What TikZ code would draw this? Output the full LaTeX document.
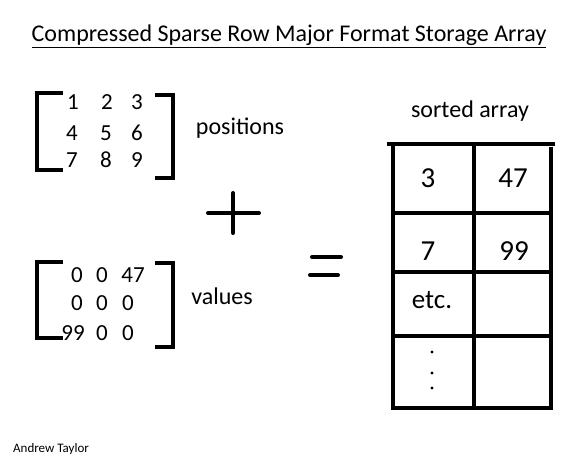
\documentclass[tikz,border=0pt]{standalone}
\usepackage{fontspec}
\setmainfont{Carlito}
\begin{document}
\begin{tikzpicture}[x=1pt,y=-1pt,
  thick line/.style={line width=4pt},
  num/.style={font=\fontsize{23}{28}\selectfont, inner sep=0pt, text height=14.5pt, text depth=0pt},
  lbl/.style={font=\fontsize{24}{28}\selectfont, inner sep=0pt},
  cell/.style={font=\fontsize{29}{32}\selectfont, inner sep=0pt, text height=18.3pt, text depth=0pt}]
\useasboundingbox[fill=white] (0,0) rectangle (582,462);
% title
\node[font=\fontsize{24}{28}\selectfont, inner sep=0pt] (title) at (289,36) {\underline{Compressed Sparse Row Major Format Storage Array}};
% matrix 1
\draw[thick line] (63,93) -- (37,93) -- (37,170) -- (63,170);
\draw[thick line] (155,95) -- (173,95) -- (173,178) -- (155,178);
\node[num] (p1) at (73,102) {1};
\node[num] (p2) at (107,102) {2};
\node[num] (p3) at (137,102) {3};
\node[num] (p4) at (72,133) {4};
\node[num] (p5) at (106,133) {5};
\node[num] (p6) at (137,133) {6};
\node[num] (p7) at (72,160) {7};
\node[num] (p8) at (106,160) {8};
\node[num] (p9) at (137,160) {9};
\node[lbl] (positions) at (240,128) {positions};
% plus
\draw[thick line, line cap=round] (208,213) -- (259,213);
\draw[thick line, line cap=round] (233,193) -- (233,233);
% matrix 2
\draw[thick line] (63,262) -- (37,262) -- (37,338) -- (63,338);
\draw[thick line] (155,263) -- (173,263) -- (173,347) -- (155,347);
\node[num] (v1) at (77,275) {0};
\node[num] (v2) at (102,275) {0};
\node[num] (v3) at (133,275) {47};
\node[num] (v4) at (77,303) {0};
\node[num] (v5) at (102,303) {0};
\node[num] (v6) at (128,303) {0};
\node[num] (v7) at (73,333) {99};
\node[num] (v8) at (102,333) {0};
\node[num] (v9) at (128,333) {0};
\node[lbl] (values) at (222,296) {values};
% equals
\draw[thick line, line cap=round] (312,257) -- (341,257);
\draw[thick line, line cap=round] (310,275) -- (338,275);
% sorted array
\node[lbl] (sorted) at (470,111) {sorted array};
\draw[thick line] (387,144) -- (555,144);
\draw[thick line] (393,144) -- (393,408);
\draw[thick line] (474,144) -- (474,408);
\draw[thick line] (551,147) -- (551,408);
\draw[thick line] (393,213) -- (553,213);
\draw[thick line] (393,272) -- (553,272);
\draw[thick line] (393,336) -- (553,336);
\draw[thick line] (391,408) -- (553,408);
\node[cell] (c1) at (428,178) {3};
\node[cell] (c2) at (513,178) {47};
\node[cell] (c3) at (428,251) {7};
\node[cell] (c4) at (514,251) {99};
\node[lbl, font=\fontsize{27}{30}\selectfont] (c5) at (432,300) {etc.};
\fill (432,352) circle (1.6);
\fill (432,373) circle (1.6);
\fill (432,388) circle (1.6);
% author
\node[font=\fontsize{13}{15}\selectfont, anchor=west, inner sep=0pt] (author) at (13,449) {Andrew Taylor};
\end{tikzpicture}
\end{document}
